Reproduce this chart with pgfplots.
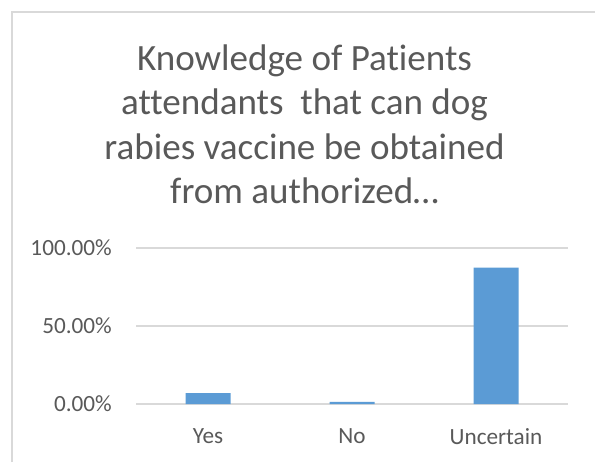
\documentclass[border=0pt]{standalone}
\usepackage{fontspec}
\setmainfont{Carlito}[Ligatures={NoCommon}]
\usepackage{pgfplots}
\pgfplotsset{compat=1.18}
\definecolor{barblue}{HTML}{5B9BD5}
\definecolor{gridgray}{HTML}{D9D9D9}
\definecolor{txtgray}{HTML}{595959}
\begin{document}
\begin{tikzpicture}
% picture is 595 x 462 px, 1px = 0.75pt
\useasboundingbox (0,0) rectangle (446.25pt,346.5pt);
\draw[gridgray,line width=1.2pt] (9pt,0pt) -- (9pt,337.5pt) -- (446.25pt,337.5pt);
\begin{scope}[every node/.style={font=\fontsize{27.8}{32}\selectfont,text=txtgray,anchor=base,inner sep=0pt}]
  \node at (228.4pt,294pt) {Knowledge of Patients};
  \node at (228.4pt,260.6pt) {attendants\ \ that can dog};
  \node at (228.4pt,227pt) {rabies vaccine be obtained};
  \node at (228.4pt,193.9pt) {from authorized…};
\end{scope}
\begin{axis}[
  at={(102pt,43.5pt)},
  anchor=south west,
  scale only axis,
  width=324pt,
  height=117pt,
  axis line style={draw=none},
  ybar,
  bar width=33.75pt,
  xmin=-0.5, xmax=2.5,
  ymin=0, ymax=100,
  xtick={0,1,2},
  xticklabels={Yes,No,Uncertain},
  ytick={0,50,100},
  yticklabels={0.00\%,50.00\%,100.00\%},
  ymajorgrids,
  grid style={draw=gridgray,line width=1pt},
  major tick length=0pt,
  tick style={draw=none},
  tick label style={font=\fontsize{17.4}{20}\selectfont,text=txtgray},
  yticklabel style={anchor=east,inner sep=0pt,xshift=-18pt},
  xticklabel style={anchor=north,inner sep=0pt,yshift=-18pt},
  clip=false,
]
  \addplot[fill=barblue,draw=none] coordinates {(0,7.0) (1,1.3) (2,87.4)};
\end{axis}
\end{tikzpicture}
\end{document}
